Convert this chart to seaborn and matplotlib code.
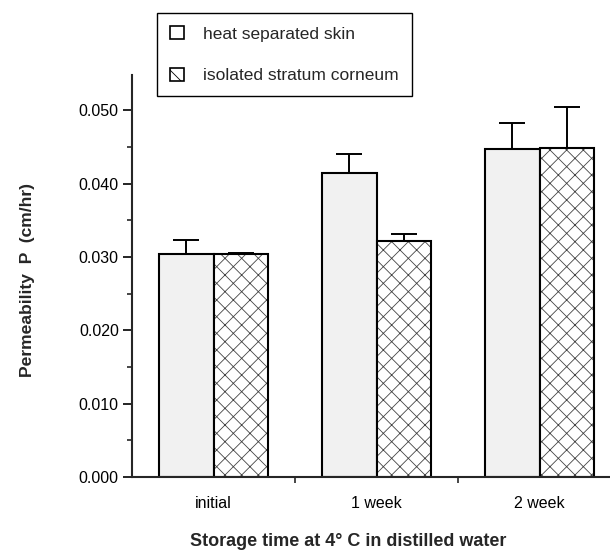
import numpy as np
import pandas as pd
import matplotlib
matplotlib.use("Agg")
import matplotlib.pyplot as plt
import seaborn as sns
from matplotlib.patches import Patch, Rectangle
from matplotlib.ticker import MultipleLocator, FormatStrFormatter, FixedLocator

# valores
tiempos = ['initial', '1 week', '2 week']
heat_mean = [0.0304, 0.0414, 0.0447]
heat_err = [0.0019, 0.0026, 0.0035]
sc_mean = [0.0304, 0.0322, 0.0449]
sc_err = [0.0002, 0.0009, 0.0055]
series = ['heat separated skin', 'isolated stratum corneum']

df = pd.DataFrame({
    'tiempo': tiempos * 2,
    'P': heat_mean + sc_mean,
    'tejido': [series[0]] * 3 + [series[1]] * 3,
})

sns.set_style('ticks')
plt.rcParams['font.family'] = ['Liberation Sans', 'DejaVu Sans']
plt.rcParams['hatch.linewidth'] = 0.6

fig = plt.figure(figsize=(6.1, 5.58), dpi=100)
ax = fig.add_axes([132 / 610, 81 / 558, 478 / 610, 402 / 558])

sns.barplot(data=df, x='tiempo', y='P', hue='tejido', hue_order=series,
            order=tiempos, width=0.67, gap=0, errorbar=None, legend=False,
            palette=['#f1f1f1', 'white'], edgecolor='black', linewidth=1.5, ax=ax)

# patron de rayas para stratum corneum
for p in ax.containers[1]:
    p.set_hatch('xx')
    p.set_edgecolor('#444444')
    p.set_linewidth(0)
    ax.add_patch(Rectangle(p.get_xy(), p.get_width(), p.get_height(),
                           facecolor='none', edgecolor='black', linewidth=1.5, zorder=p.get_zorder() + 0.1))

# barras de error (solo hacia arriba)
for cont, medias, errs in zip(ax.containers[:2], [heat_mean, sc_mean], [heat_err, sc_err]):
    xs = [p.get_x() + p.get_width() / 2 for p in cont]
    ax.errorbar(xs, medias, yerr=[np.zeros(3), errs], fmt='none', ecolor='black',
                elinewidth=1.4, capsize=9.4, capthick=1.4, zorder=1)

ax.set_xlim(-0.5, (610 - 213.5) / 163)
ax.set_ylim(0, 0.0548)
ax.yaxis.set_major_locator(MultipleLocator(0.01))
ax.yaxis.set_minor_locator(MultipleLocator(0.005))
ax.yaxis.set_major_formatter(FormatStrFormatter('%.3f'))
ax.xaxis.set_minor_locator(FixedLocator([0.5, 1.5]))

sns.despine(ax=ax)
ax.spines['left'].set_linewidth(1.5)
ax.spines['bottom'].set_linewidth(1.5)
ax.tick_params(axis='y', which='major', length=6.5, width=1.2, labelsize=11.5, pad=3, colors='black')
ax.tick_params(axis='y', which='minor', length=3.5, width=1.2)
ax.tick_params(axis='x', which='major', length=0, labelsize=11.5, pad=14, colors='black')
ax.tick_params(axis='x', which='minor', length=4, width=1.2)
ax.set_xlabel('')
ax.set_ylabel('')

fig.text(348.5 / 610, 1 - 542 / 558, 'Storage time at 4° C in distilled water',
         ha='center', va='center', fontsize=13, fontweight='bold')
fig.text(28 / 610, 1 - 280 / 558, 'Permeability  P  (cm/hr)', rotation=90,
         ha='center', va='center', fontsize=12.6, fontweight='bold')

handles = [Patch(facecolor='white', edgecolor='black', linewidth=1.2),
           Patch(facecolor='white', edgecolor='black', linewidth=1.2, hatch='\\')]
leg = fig.legend(handles, series, loc='upper left', bbox_to_anchor=(157 / 610, 1 - 13 / 558),
                 bbox_transform=fig.transFigure, borderaxespad=0, fontsize=12.5,
                 handlelength=0.8, handleheight=0.8, handletextpad=1.1,
                 labelspacing=1.5, borderpad=0.75, fancybox=False, framealpha=1)
leg.get_frame().set_edgecolor('black')
leg.get_frame().set_linewidth(1.0)

fig.savefig('out.png', dpi=100)
